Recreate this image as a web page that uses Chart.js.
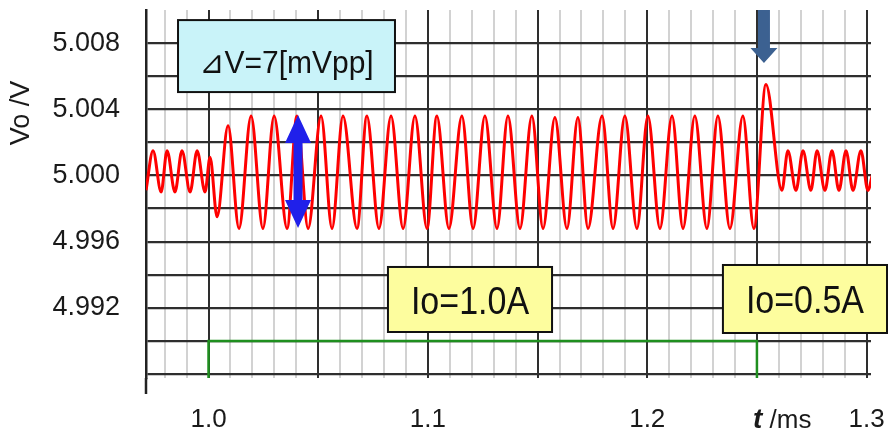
<!DOCTYPE html>
<html>
<head>
<meta charset="utf-8">
<script src="https://cdn.jsdelivr.net/npm/chart.js@4.4.1/dist/chart.umd.min.js"></script>
<style>
  html, body { margin: 0; padding: 0; background: #fff; }
</style>
</head>
<body>
<canvas id="chart" width="888" height="433"></canvas>
<script>
const FONT = "'Liberation Sans', Arial, 'DejaVu Sans', 'Noto Sans CJK JP', sans-serif";

// Vo trace: peaks and troughs (t in ms, V)
const voTime = [
  0.9715, 0.9747, 0.9784, 0.9811, 0.9847, 0.9879, 0.9916, 0.9948, 0.9984,
  1.0007,
  1.0039, 1.0089, 1.0139, 1.0194, 1.0248, 1.0299, 1.0358, 1.0403, 1.0454, 1.0513,
  1.0563, 1.0613, 1.0677, 1.0722, 1.0777, 1.0832, 1.0887, 1.0941, 1.0996, 1.1041,
  1.1096, 1.1155, 1.1206, 1.1260, 1.1315, 1.1365, 1.1420, 1.1474, 1.1525, 1.1579,
  1.1634, 1.1684, 1.1730, 1.1794, 1.1844, 1.1898, 1.1953, 1.2003, 1.2058, 1.2113,
  1.2163, 1.2217, 1.2272, 1.2322, 1.2377, 1.2436, 1.2486,
  1.2541, 1.2614, 1.2641, 1.2678, 1.2710, 1.2746, 1.2774, 1.2810, 1.2842, 1.2874,
  1.2906, 1.2938, 1.2974, 1.3006, 1.3027
];
const voValue = [
  4.9991, 5.0015, 4.9990, 5.0015, 4.9990, 5.0015, 4.9990, 5.0015, 4.9990,
  5.0011,
  4.9975, 5.0030, 4.9968, 5.0036, 4.9968, 5.0036, 4.9968, 5.0036, 4.9968, 5.0036,
  4.9968, 5.0036, 4.9968, 5.0036, 4.9968, 5.0036, 4.9968, 5.0036, 4.9968, 5.0036,
  4.9968, 5.0036, 4.9968, 5.0036, 4.9968, 5.0036, 4.9968, 5.0036, 4.9968, 5.0035,
  4.9968, 5.0035, 4.9968, 5.0036, 4.9968, 5.0036, 4.9968, 5.0036, 4.9968, 5.0036,
  4.9968, 5.0036, 4.9968, 5.0036, 4.9968, 5.0036, 4.9968,
  5.0055, 4.9991, 5.0015, 4.9991, 5.0015, 4.9991, 5.0015, 4.9991, 5.0015, 4.9991,
  5.0015, 4.9991, 5.0015, 4.9991, 5.0001
];

// load current step (drawn in the lower strip)
const ioTime = [1.0, 1.0, 1.25, 1.25];
const ioLevel = [4.98776, 4.990, 4.990, 4.98776];

const xGridTicks = [
  0.98, 0.99, 1.00, 1.01, 1.02, 1.03, 1.04, 1.05, 1.06, 1.07, 1.08,
  1.09, 1.10, 1.11, 1.12, 1.13, 1.14, 1.15, 1.16, 1.17, 1.18, 1.19,
  1.20, 1.21, 1.22, 1.23, 1.24, 1.25, 1.26, 1.27, 1.28, 1.29, 1.30
];
const xMajorTicks = [1.00, 1.05, 1.10, 1.15, 1.20, 1.25, 1.30];
const xLabelTicks = [1.0, 1.1, 1.2, 1.3];
const yGridTicks = [4.988, 4.990, 4.992, 4.994, 4.996, 4.998, 5.000, 5.002, 5.004, 5.006, 5.008];
const yLabelTicks = [4.992, 4.996, 5.000, 5.004, 5.008];

const near = (v, list) => list.some(b => Math.abs(v - b) < 1e-6);

const boxes = [
  { text: "⊿V=7[mVpp]", t0: 0.9861, t1: 1.0850, v0: 5.00504, v1: 5.00939, fill: "#c9f3f9", size: 30, sy: 1.05, dy: 6 },
  { text: "Io=1.0A", t0: 1.0818, t1: 1.1566, v0: 4.99054, v1: 4.99447, fill: "#fdfd9e", size: 34, sy: 1.15, dy: 0 },
  { text: "Io=0.5A", t0: 1.2345, t1: 1.3093, v0: 4.99048, v1: 4.99459, fill: "#fdfd9e", size: 34, sy: 1.15, dy: 0 }
];

function vArrow(ctx, cx, yTop, yBot, shaft, headW, headL, both) {
  ctx.beginPath();
  if (both) {
    ctx.moveTo(cx, yTop);
    ctx.lineTo(cx + headW / 2, yTop + headL);
    ctx.lineTo(cx + shaft / 2, yTop + headL);
  } else {
    ctx.moveTo(cx + shaft / 2, yTop);
  }
  ctx.lineTo(cx + shaft / 2, yBot - headL);
  ctx.lineTo(cx + headW / 2, yBot - headL);
  ctx.lineTo(cx, yBot);
  ctx.lineTo(cx - headW / 2, yBot - headL);
  ctx.lineTo(cx - shaft / 2, yBot - headL);
  if (both) {
    ctx.lineTo(cx - shaft / 2, yTop + headL);
    ctx.lineTo(cx - headW / 2, yTop + headL);
  } else {
    ctx.lineTo(cx - shaft / 2, yTop);
  }
  ctx.closePath();
  ctx.fill();
}

const overlay = {
  id: "overlay",
  afterDraw(chart) {
    const { ctx, chartArea, scales: { x, y } } = chart;
    ctx.save();

    // axis line runs a little below the grid
    ctx.strokeStyle = "#222";
    ctx.lineWidth = 2.5;
    ctx.beginPath();
    ctx.moveTo(chartArea.left, chartArea.bottom);
    ctx.lineTo(chartArea.left, chartArea.bottom + 16);
    ctx.stroke();

    // annotation boxes
    boxes.forEach(b => {
      const l = x.getPixelForValue(b.t0), r = x.getPixelForValue(b.t1);
      const t = y.getPixelForValue(b.v1), bt = y.getPixelForValue(b.v0);
      ctx.fillStyle = b.fill;
      ctx.fillRect(l, t, r - l, bt - t);
      ctx.strokeStyle = "#111";
      ctx.lineWidth = 2;
      ctx.strokeRect(l, t, r - l, bt - t);
      ctx.fillStyle = "#111";
      ctx.font = b.size + "px " + FONT;
      ctx.textAlign = "center";
      ctx.textBaseline = "alphabetic";
      ctx.save();
      ctx.translate((l + r) / 2, (t + bt) / 2 + b.size * 0.36 * b.sy + b.dy);
      ctx.scale(1, b.sy);
      ctx.fillText(b.text, 0, 0);
      ctx.restore();
    });

    // ripple amplitude arrow
    ctx.fillStyle = "#2020ea";
    vArrow(ctx, x.getPixelForValue(1.0408), y.getPixelForValue(5.00365), y.getPixelForValue(4.99682), 9, 26, 28, true);

    // load step marker
    ctx.fillStyle = "#3c6191";
    vArrow(ctx, x.getPixelForValue(1.2532), chartArea.top, y.getPixelForValue(5.00679), 12, 27, 15, false);

    // axis titles
    ctx.fillStyle = "#1a1a1a";
    ctx.save();
    ctx.translate(22, 113);
    ctx.rotate(-Math.PI / 2);
    ctx.font = "27px " + FONT;
    ctx.textAlign = "center";
    ctx.textBaseline = "middle";
    ctx.fillText("Vo /V", 0, 0);
    ctx.restore();

    ctx.textAlign = "left";
    ctx.textBaseline = "alphabetic";
    const tx = x.getPixelForValue(1.2482);
    ctx.font = "italic bold 28px " + FONT;
    ctx.fillText("t", tx, 428);
    const w = ctx.measureText("t").width;
    ctx.font = "26px " + FONT;
    ctx.fillText(" /ms", tx + w, 428);

    ctx.restore();
  }
};

new Chart(document.getElementById("chart"), {
  type: "line",
  data: {
    datasets: [
      {
        data: voTime.map((t, i) => ({ x: t, y: voValue[i] })),
        borderColor: "#ff0000",
        borderWidth: 3,
        pointRadius: 0,
        cubicInterpolationMode: "monotone"
      },
      {
        data: ioTime.map((t, i) => ({ x: t, y: ioLevel[i] })),
        borderColor: "#1f8f1f",
        borderWidth: 2.5,
        pointRadius: 0,
        tension: 0
      }
    ]
  },
  options: {
    responsive: false,
    animation: false,
    layout: { padding: { top: 10, right: 17, left: 0, bottom: 0 } },
    plugins: { legend: { display: false }, tooltip: { enabled: false } },
    scales: {
      x: {
        type: "linear",
        min: 0.9715,
        max: 1.302,
        afterBuildTicks: s => { s.ticks = xGridTicks.map(v => ({ value: v })); },
        afterFit: s => { s.height = 55; s.paddingLeft = 0; s.paddingRight = 0; },
        ticks: {
          autoSkip: false,
          maxRotation: 0,
          padding: 26,
          color: "#1a1a1a",
          font: { family: FONT, size: 26 },
          callback: v => near(v, xLabelTicks) ? v.toFixed(1) : ""
        },
        grid: {
          drawTicks: false,
          lineWidth: 2,
          color: c => near(c.tick.value, xMajorTicks) ? "#2e2e2e" : "#d2d2d2"
        },
        border: { display: false }
      },
      y: {
        min: 4.98776,
        max: 5.010,
        afterBuildTicks: s => { s.ticks = yGridTicks.map(v => ({ value: v })); },
        afterFit: s => { s.width = 146; s.paddingTop = 0; s.paddingBottom = 0; },
        ticks: {
          padding: 26,
          color: "#1a1a1a",
          font: { family: FONT, size: 27 },
          callback: v => near(v, yLabelTicks) ? v.toFixed(3) : ""
        },
        grid: { drawTicks: false, lineWidth: 2.2, color: "#2e2e2e" },
        border: { display: true, color: "#222", width: 2.5 }
      }
    }
  },
  plugins: [overlay]
});
</script>
</body>
</html>
